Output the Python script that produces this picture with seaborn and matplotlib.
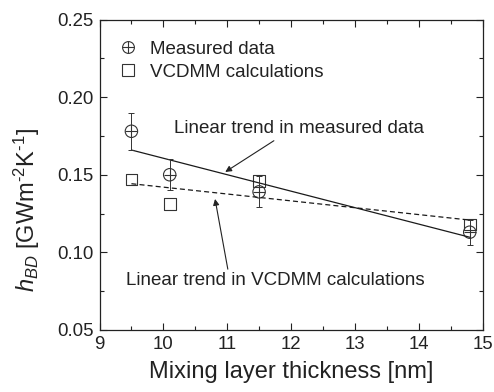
import numpy as np
import pandas as pd
import matplotlib
matplotlib.use("Agg")
import matplotlib.pyplot as plt
import seaborn as sns
from matplotlib.lines import Line2D
from matplotlib.legend_handler import HandlerTuple

# ---- data ----
thickness = [9.5, 10.1, 11.5, 14.8]
measured = [0.178, 0.150, 0.139, 0.113]
measured_err = [0.012, 0.010, 0.010, 0.008]
vcdmm = [0.147, 0.131, 0.146, 0.118]

xticks = [9, 10, 11, 12, 13, 14, 15]
yticks = [0.05, 0.10, 0.15, 0.20, 0.25]

sns.set_style("ticks")
plt.rcParams["font.family"] = ["Liberation Sans", "DejaVu Sans"]
plt.rcParams["mathtext.fontset"] = "custom"
plt.rcParams["mathtext.rm"] = "Liberation Sans"
plt.rcParams["mathtext.it"] = "Liberation Sans:italic"

df = pd.DataFrame({"x": thickness, "meas": measured, "err": measured_err, "calc": vcdmm})

# linear fits
pm = np.polyfit(df["x"], df["meas"], 1)
pc = np.polyfit(df["x"], df["calc"], 1)
xf = np.array([min(thickness), max(thickness)])
fit = pd.DataFrame({"x": xf, "meas_fit": np.polyval(pm, xf), "calc_fit": np.polyval(pc, xf)})

fig = plt.figure(figsize=(4.94, 3.92), dpi=100)
ax = fig.add_axes([99.5 / 494, 1 - 330 / 392, 383 / 494, 310.5 / 392])

col = "#1a1a1a"
sns.lineplot(data=fit, x="x", y="meas_fit", ax=ax, color=col, lw=0.9, legend=False)
sns.lineplot(data=fit, x="x", y="calc_fit", ax=ax, color=col, lw=0.9, legend=False,
             linestyle=(0, (4, 2.5)))

ax.errorbar(df["x"], df["meas"], yerr=df["err"], fmt="none", ecolor="#333333",
            elinewidth=0.7, capsize=2.5, capthick=0.7)
sns.scatterplot(data=df, x="x", y="calc", ax=ax, marker="s", s=70,
                facecolor="none", edgecolor="#333333", linewidth=0.8)
sns.scatterplot(data=df, x="x", y="meas", ax=ax, marker="o", s=80,
                facecolor="none", edgecolor="#333333", linewidth=0.8)
sns.scatterplot(data=df, x="x", y="meas", ax=ax, marker="+", s=80,
                color="#333333", linewidth=0.8)

ax.set_xlim(9, 15)
ax.set_ylim(0.05, 0.25)
ax.set_xticks(xticks)
ax.set_xticklabels([str(t) for t in xticks])
ax.set_yticks(yticks)
ax.set_yticklabels([f"{t:.2f}" for t in yticks])
ax.set_xticks(np.arange(9.5, 15, 1.0), minor=True)
ax.set_yticks(np.arange(0.075, 0.25, 0.05), minor=True)
ax.tick_params(which="both", direction="in", top=True, right=True,
               labelsize=13.4, colors="#222222", width=0.8)
ax.tick_params(which="major", length=5, pad=4)
ax.tick_params(which="minor", length=3)
for s in ax.spines.values():
    s.set_linewidth(0.9)
    s.set_color("#222222")

ax.set_xlabel("Mixing layer thickness [nm]", fontsize=17, color="#222222", labelpad=6)
ax.set_ylabel("$h_{BD}$ [GWm$^{\u2010 2}$K$^{\u2010 1}$]", fontsize=17, color="#222222")
ax.yaxis.set_label_coords(-0.15, 0.385)

# legend
h_circ = Line2D([], [], marker="o", ls="none", mfc="none", mec="#333333", ms=8.5, mew=0.8)
h_plus = Line2D([], [], marker="+", ls="none", color="#333333", ms=8.5, mew=0.8)
h_sq = Line2D([], [], marker="s", ls="none", mfc="none", mec="#333333", ms=8, mew=0.8)
ax.legend([(h_circ, h_plus), h_sq], ["Measured data", "VCDMM calculations"],
          handler_map={tuple: HandlerTuple(ndivide=1, pad=0)},
          loc="upper left", frameon=False, fontsize=13.5, handlelength=1.0,
          handletextpad=0.7, labelspacing=0.32, borderaxespad=0.6,
          bbox_to_anchor=(0.0, 0.993), labelcolor="#222222")

# annotations
ax.annotate("Linear trend in measured data", xy=(10.97, 0.1518), xytext=(10.167, 0.1795),
            fontsize=13.5, color="#222222", va="center", ha="left",
            arrowprops=dict(arrowstyle="-|>", color="#222222", lw=0.8,
                            mutation_scale=9, shrinkA=0, shrinkB=0,
                            relpos=(0.42, 0.0)))
ax.annotate("Linear trend in VCDMM calculations", xy=(10.81, 0.1344), xytext=(9.415, 0.0816),
            fontsize=13.5, color="#222222", va="center", ha="left",
            arrowprops=dict(arrowstyle="-|>", color="#222222", lw=0.8,
                            mutation_scale=9, shrinkA=0, shrinkB=0,
                            relpos=(0.343, 1.0)))

fig.savefig("out.png", dpi=100)
